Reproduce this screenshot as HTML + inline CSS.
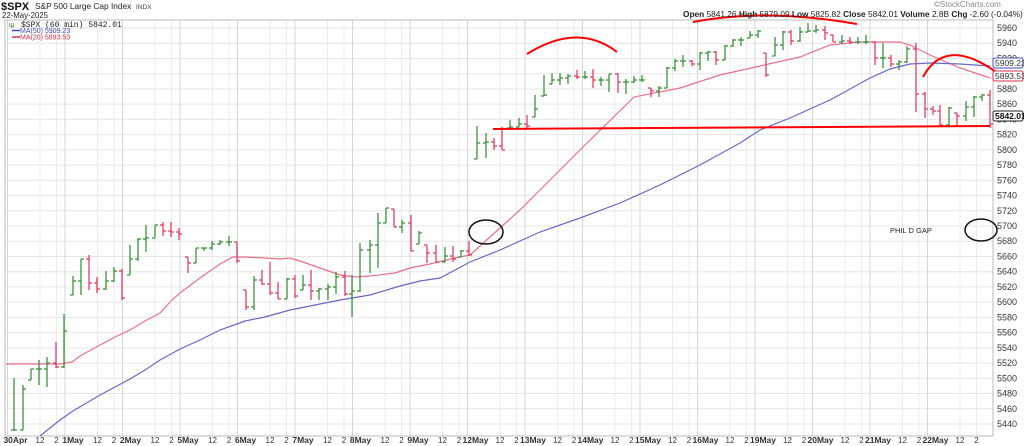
<!DOCTYPE html>
<html><head><meta charset="utf-8"><style>
body{margin:0;background:#fff;width:1024px;height:446px;overflow:hidden}
svg{display:block;font-family:"Liberation Sans",sans-serif}
</style></head><body>
<svg id="s" width="1024" height="446" viewBox="0 0 1024 446" xmlns="http://www.w3.org/2000/svg">
<rect width="1024" height="446" fill="#fff"/>
<g id="grid"></g>
<rect x="5" y="20" width="988" height="416" fill="none" stroke="#bbb" stroke-width="1"/>
<g id="axis" font-size="9" fill="#333"></g>
<polyline id="ma20" fill="none" stroke="#e8708a" stroke-width="1.2"/>
<polyline id="ma50" fill="none" stroke="#6a66c8" stroke-width="1.2"/>
<g id="bars" stroke-width="1.2"></g>
<path d="M527 54 Q578 22 617 52" fill="none" stroke="#f00" stroke-width="2"/>
<path d="M693 22 Q765 8 857 24" fill="none" stroke="#f00" stroke-width="2"/>
<path d="M923 77 Q945 36 996 72" fill="none" stroke="#f00" stroke-width="2"/>
<line x1="493" y1="129" x2="990" y2="126" stroke="#f00" stroke-width="2"/>
<ellipse cx="486" cy="232" rx="17" ry="12" fill="none" stroke="#111" stroke-width="1.5"/>
<ellipse cx="981" cy="230" rx="16" ry="11" fill="none" stroke="#111" stroke-width="1.5"/>
<text x="890" y="233" font-size="7.5" fill="#222">PHIL D GAP</text>
<rect x="0" y="0" width="300" height="19" fill="#fff"/>
<text x="1" y="10" font-size="11" font-weight="bold" fill="#111">$SPX</text>
<text x="35" y="9" font-size="8.3" fill="#222">S&amp;P 500 Large Cap Index</text>
<text x="136" y="9" font-size="6.5" fill="#444">INDX</text>
<text x="2" y="18" font-size="7.8" fill="#222">22-May-2025</text>
<text x="9" y="27" font-size="7" fill="#2a8a2a">ιμ</text>
<text x="21" y="27" font-size="8" fill="#222" font-family="Liberation Mono,monospace">$SPX (60 min) 5842.01</text>
<line x1="12" y1="30.5" x2="20" y2="30.5" stroke="#4848b8" stroke-width="1.5"/>
<text x="20" y="33" font-size="7" fill="#4848b8">MA(50) 5909.23</text>
<line x1="12" y1="37" x2="20" y2="37" stroke="#d03050" stroke-width="1.5"/>
<text x="20" y="39.5" font-size="7" fill="#d03050">MA(20) 5893.53</text>
<text x="934" y="7" font-size="8" fill="#888">©StockCharts.com</text>
<text x="683" y="17" font-size="8.3" fill="#222"><tspan font-weight="bold">Open</tspan> 5841.26 <tspan font-weight="bold">High</tspan> 5879.09 <tspan font-weight="bold">Low</tspan> 5825.82 <tspan font-weight="bold">Close</tspan> 5842.01 <tspan font-weight="bold">Volume</tspan> 2.8B <tspan font-weight="bold">Chg</tspan> -2.60 (-0.04%) <tspan fill="#c03">▾</tspan></text>
<g font-size="8.5">
<rect x="993" y="58" width="30" height="10" fill="#fff" stroke="#4848b8" rx="2"/><text x="995" y="66" fill="#333">5909.23</text>
<rect x="993" y="71" width="30" height="10" fill="#fff" stroke="#d03050" rx="2"/><text x="995" y="79" fill="#333">5893.53</text>
<rect x="993" y="111" width="30" height="10" fill="#fff" stroke="#222" rx="2"/><text x="995" y="119" fill="#111" font-weight="bold">5842.01</text>
</g>
</svg>
<script>
const NS="http://www.w3.org/2000/svg";
function el(p,t,a,txt){const e=document.createElementNS(NS,t);for(const k in a)e.setAttribute(k,a[k]);if(txt)e.textContent=txt;p.appendChild(e);return e;}
const g=document.getElementById('grid'),ax=document.getElementById('axis');
const Y=p=>28+(5960-p)*396/520;
for(let p=5440;p<=5960;p+=20){const y=Y(p);el(g,'line',{x1:5,x2:993,y1:y,y2:y,stroke:'#e6e6e6'});
 if(p!=5900)el(ax,'text',{x:997,y:y+3},String(p));}
const days=['30Apr','1May','2May','5May','6May','7May','8May','9May','12May','13May','14May','15May','16May','19May','20May','21May','22May'];
days.forEach((d,i)=>{const s=7.5+57.5*i;
 el(g,'line',{x1:s,x2:s,y1:20,y2:436,stroke:'#d6d6d6'});
 el(g,'line',{x1:s+32.5,x2:s+32.5,y1:20,y2:436,stroke:'#ececec'});
 el(g,'line',{x1:s+49,x2:s+49,y1:20,y2:436,stroke:'#ececec'});
 el(ax,'text',{x:s+8,y:443,'text-anchor':'middle','font-weight':'bold','font-size':'8.5'},d);
 el(ax,'text',{x:s+32.5,y:443,'text-anchor':'middle','font-size':'8'},'12');
 el(ax,'text',{x:s+49,y:443,'text-anchor':'middle','font-size':'8'},'2');
});
const B=[[14,378,430,430],[23,385,430,389],[31,369,380,369],[39,360,385,369],[47,357,387,363],[56,342,368,367],[64,314,368,331],
[73,276,295,281],[81,259,295,259],[89,255,290,283],[97,277,293,289],[106,271,290,281],[114,267,282,271],[122,269,300,298],
[130,245,275,259],[138,238,261,239],[146,225,252,238],[155,225,238,225],[163,222,236,231],[171,222,237,232],[179,228,240,234],
[188,257,273,263],[196,248,263,248],[204,248,251,248],[212,241,250,244],[220,240,245,242],[229,236,246,242],[237,242,263,261],
[246,290,310,307],[254,276,310,280],[262,270,285,284],[270,262,295,293],[278,282,299,299],[287,278,299,279],[295,275,298,296],
[303,275,290,285],[311,270,300,291],[319,288,300,289],[328,284,300,287],[336,272,294,277],[345,271,296,294],[352,275,317,291],
[360,243,292,250],[370,240,273,245],[378,213,268,223],[386,208,223,208],[394,209,227,227],[402,220,233,223],[411,215,251,251],
[419,231,244,233],[427,245,263,253],[436,245,262,262],[445,247,262,256],[453,246,262,259],[461,250,257,251],[469,241,256,255],
[477,126,159,143],[486,133,158,142],[494,138,150,146],[502,127,150,150],[510,120,128,127],[519,118,127,124],[527,115,128,126],
[535,95,117,109],[544,75,96,95],[552,73,84,80],[560,73,85,78],[568,74,84,76],[577,70,79,77],[585,71,79,77],
[593,69,88,80],[601,77,86,80],[609,74,92,74],[618,73,93,82],[626,79,94,82],[634,76,83,80],[642,75,82,80],
[651,88,97,91],[659,86,97,88],[667,67,88,68],[675,59,71,61],[683,55,67,61],[692,60,66,64],[700,52,70,53],
[708,51,61,52],[716,51,65,60],[725,45,60,46],[733,39,47,40],[741,37,46,40],[750,31,38,35],[758,30,38,31],
[766,53,77,75],[775,37,56,45],[783,31,50,32],[791,30,45,41],[800,27,42,32],[808,23,32,31],[816,25,33,30],
[825,26,40,33],[833,35,42,42],[842,35,44,41],[850,37,44,42],[858,37,44,42],[866,35,44,42],[875,42,65,58],
[883,43,68,58],[891,55,67,64],[899,60,70,62],[907,46,63,49],[916,43,112,94],[925,92,118,109],[933,106,115,111],
[940,105,127,125],[949,107,127,108],[957,113,127,116],[966,101,121,107],[974,96,117,97],[982,94,101,95],[990,90,128,124]];
const bg=document.getElementById('bars');let prev=430;
B.forEach(b=>{let [x,h,l,c]=b;let o=Math.min(l,Math.max(h,prev));const col=c<=o?'#2f8a2f':'#e0305a';
 el(bg,'line',{x1:x,x2:x,y1:h,y2:l,stroke:col});
 el(bg,'line',{x1:x-3,x2:x,y1:o,y2:o,stroke:col});
 el(bg,'line',{x1:x,x2:x+3,y1:c,y2:c,stroke:col});prev=c;});
document.getElementById('ma20').setAttribute('points',"6,364 60,364 72,362 80,356 100,345 115,337 130,330 145,321 160,313 172,300 180,293 200,278 220,264 233,257 245,257 265,258 280,259 290,258 300,261 320,268 340,275 355,277 370,276 395,273 410,268 430,264 455,258 470,255 500,228 520,210 550,180 580,150 634,97 680,88 720,75 760,66 800,57 830,45 860,42 900,42 910,45 930,55 960,68 990,78");
document.getElementById('ma50').setAttribute('points',"40,436 60,420 73,411 100,395 115,387 130,379 145,370 160,360 180,349 200,340 220,330 245,321 265,317 290,310 310,306 340,300 370,295 400,286 420,281 440,278 470,262 500,250 540,232 580,218 620,203 660,185 700,165 740,143 760,130 790,118 830,100 870,78 890,69 910,64 930,63 960,64 990,66");
</script>
</body></html>
